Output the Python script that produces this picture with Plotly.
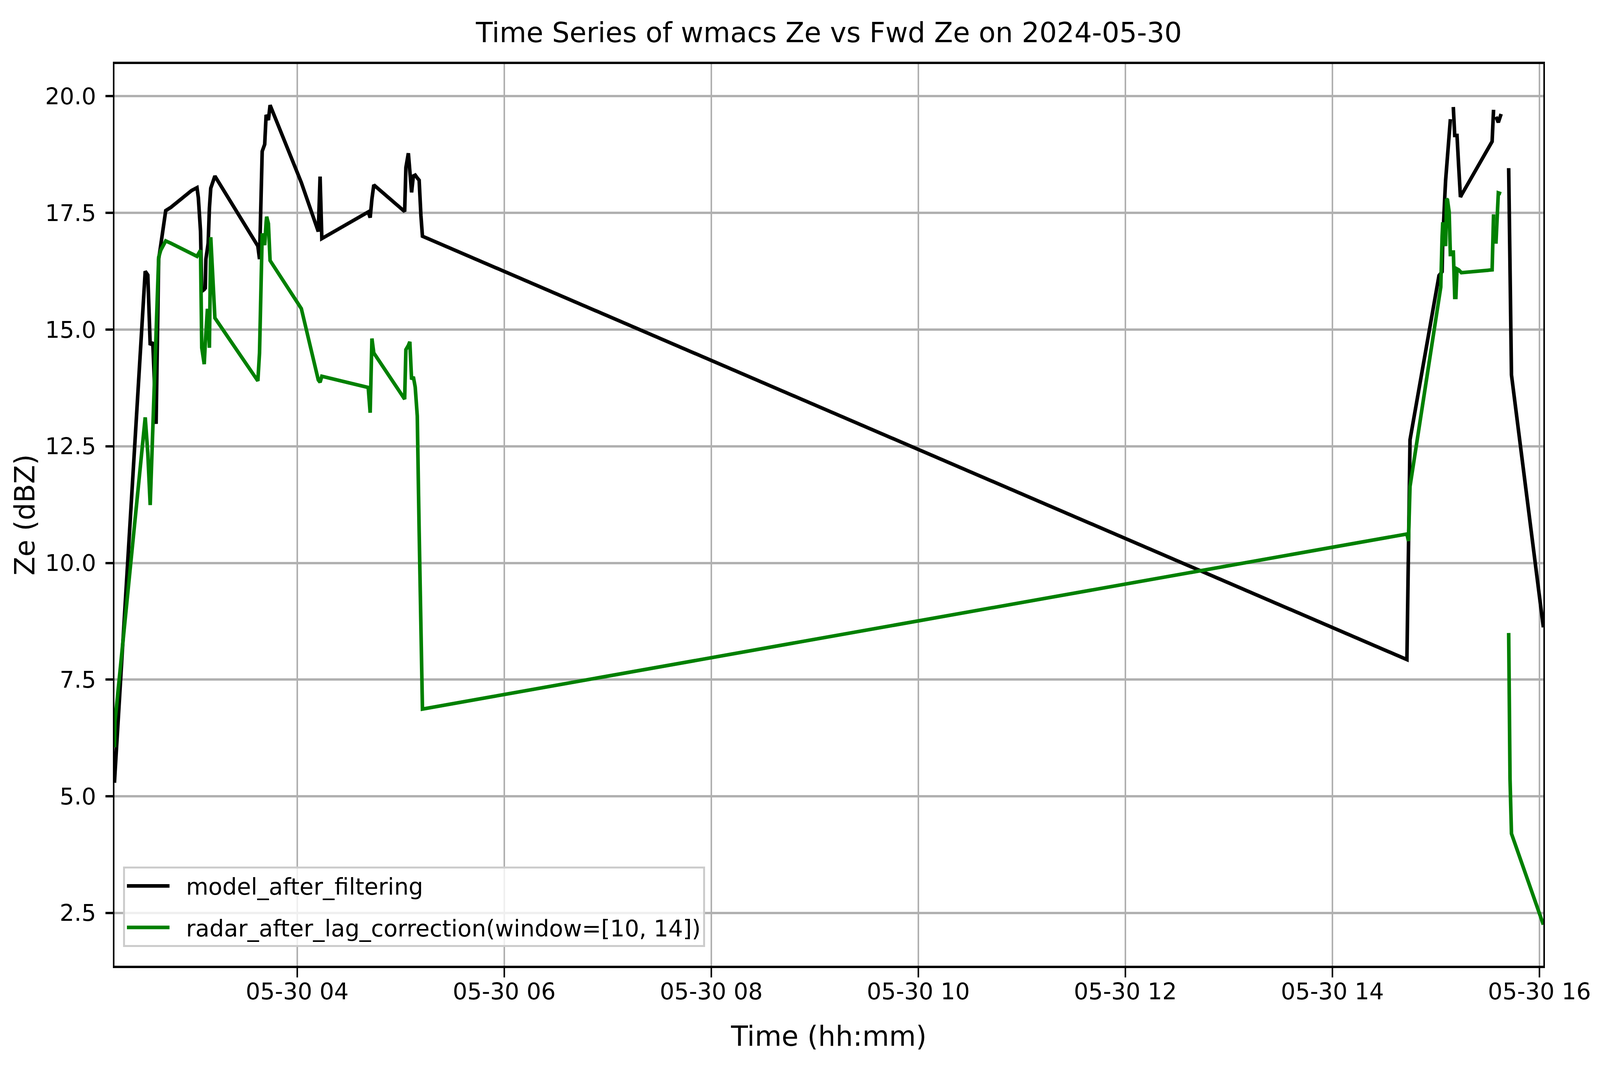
import plotly.graph_objects as go

DATE = "2024-05-30"

times = [
    "02:14:05", "02:14:24", "02:31:55", "02:33:25", "02:34:48", "02:36:18", "02:38:13",
    "02:39:43", "02:40:55", "02:43:48", "02:46:48", "02:58:48", "03:01:55", "03:02:42",
    "03:03:58", "03:04:41", "03:06:07", "03:06:43", "03:07:05", "03:07:55", "03:08:24",
    "03:09:07", "03:09:54", "03:12:18", "03:37:12", "03:38:10", "03:39:43", "03:41:10",
    "03:42:00", "03:42:18", "03:43:19", "03:43:55", "03:44:17", "04:02:24", "04:12:14",
    "04:13:16", "04:14:17", "04:41:10", "04:42:18", "04:43:19", "04:44:24", "05:02:17",
    "05:03:00", "05:04:26", "05:05:17", "05:06:18", "05:07:19", "05:08:24", "05:09:36",
    "05:10:41", "05:11:42", "05:12:36",
    "14:43:12", "14:44:06", "14:45:00", "15:01:48", "15:02:49", "15:03:36", "15:03:58",
    "15:04:23", "15:05:13", "15:05:38", "15:06:11", "15:06:43", "15:07:41", "15:08:24",
    "15:09:11", "15:10:05", "15:10:55", "15:11:35", "15:12:14", "15:13:12", "15:14:13",
    "15:14:46", "15:32:35", "15:33:25", "15:34:12", "15:34:48", "15:36:11", "15:37:48",
    "15:39:54", "15:42:11", "15:42:58", "15:43:48", "16:02:17",
]

model_after_filtering = [
    5.29, 5.50, 16.25, 16.17, 14.67, 14.73, 12.98,
    16.51, 16.81, 17.55, 17.62, 17.98, 18.04, 17.83,
    17.11, 15.82, 15.86, 15.89, 16.51, 16.75, 16.85,
    17.60, 18.03, 18.29, 16.79, 16.51, 18.82, 18.97,
    19.60, 19.58, 19.49, 19.70, 19.81, 18.15, 17.10,
    18.28, 16.95, 17.52, 17.40, 17.80, 18.10, 17.53,
    18.47, 18.78, 18.40, 17.94, 18.29, 18.31, 18.25,
    18.20, 17.45, 17.00,
    7.93, 10.30, 12.64, 16.16, 16.20, 16.24, 16.90,
    17.38, 17.90, 18.20, 18.50, 18.80, 19.25, 19.51,
    None, 19.77, 19.16, 19.16, 19.16, 18.50, 17.84,
    17.88, 19.03, 19.71, None, 19.56, 19.44, 19.62,
    None, 18.46, 16.33, 14.03, 8.62,
]

radar_after_lag_correction = [
    6.05, 6.60, 13.12, 12.35, 11.24, 12.90, 15.20,
    16.55, 16.70, 16.90, 16.85, 16.62, 16.57, 16.62,
    16.70, 14.61, 14.26, 14.70, 15.00, 15.41, 15.41,
    14.61, 16.98, 15.25, 13.90, 14.50, 17.06, 16.81,
    17.30, 17.42, 17.27, 16.51, 16.48, 15.45, 13.92,
    13.87, 14.00, 13.76, 13.22, 14.81, 14.50, 13.51,
    14.57, 14.66, 14.74, 13.93, 13.99, 13.77, 13.15,
    10.69, 8.37, 6.87,
    10.62, 10.47, 11.64, 15.62, 15.91, 17.00, 17.30,
    17.10, 16.79, 16.79, 17.80, 17.78, 17.52, 16.57,
    None, 16.70, 15.69, 15.69, 16.30, 16.28, 16.23,
    16.22, 16.28, 17.47, None, 16.84, 17.93, 17.91,
    None, 8.50, 5.37, 4.20, 2.25,
]

y_ticks = [2.5, 5.0, 7.5, 10.0, 12.5, 15.0, 17.5, 20.0]

x = [f"{DATE} {t}" for t in times]

# The page is shown in a 4096 x 2740 viewport: fill it.
W, H = 4096, 2740
KX = W / 5206          # horizontal scale vs. reference pixels
F = 0.85               # font scale
FONT = "DejaVu Sans"

L, R, T, B = round(362 * KX), round(194 * KX), 156, 275
PLOT_H = H - T - B

TICK_FS = 69 * F
TITLE_FS = 83 * F
LINE_W = 9.2

fig = go.Figure()
fig.add_trace(go.Scatter(
    x=x, y=model_after_filtering, mode="lines",
    name="\u00a0\u00a0model_after_filtering", legendgroup="a",
    line=dict(color="black", width=LINE_W), connectgaps=False,
))
fig.add_trace(go.Scatter(
    x=x, y=radar_after_lag_correction, mode="lines",
    name="\u00a0\u00a0radar_after_lag_correction(window=[10, 14])", legendgroup="b",
    line=dict(color="green", width=LINE_W), connectgaps=False,
))

fig.update_layout(
    width=W, height=H,
    margin=dict(l=L, r=R, t=T, b=B, pad=0),
    paper_bgcolor="white", plot_bgcolor="white",
    font=dict(family=FONT, size=TICK_FS, color="black"),
    title=dict(
        text=f"Time Series of wmacs Ze vs Fwd Ze on {DATE}",
        x=(L + (W - R)) / 2 / W, xanchor="center", xref="container",
        y=1 - 75 / H, yanchor="middle", yref="container",
        font=dict(family=FONT, size=TITLE_FS, color="black"),
    ),
    showlegend=True,
    legend=dict(
        x=0.006, y=(32 + 16) / PLOT_H, xanchor="left", yanchor="bottom",
        bgcolor="rgba(255,255,255,0.8)", bordercolor="#cccccc", borderwidth=5,
        font=dict(family=FONT, size=TICK_FS, color="black"),
        itemwidth=round(139 * KX), tracegroupgap=27, traceorder="grouped",
    ),
)

fig.update_xaxes(
    type="date",
    range=[f"{DATE} 02:14:05", f"{DATE} 16:02:17"],
    tick0=f"{DATE} 00:00:00", dtick=2 * 3600 * 1000,
    tickformat="%m-%d %H",
    showgrid=True, gridcolor="#b0b0b0", gridwidth=5.6 * KX,
    showline=True, linecolor="black", linewidth=5.6, mirror=True,
    ticks="outside", ticklen=24, tickwidth=5.6 * KX, tickcolor="black",
    tickfont=dict(family=FONT, size=TICK_FS, color="black"),
    ticklabelstandoff=-14,
    zeroline=False,
    title=dict(text="Time (hh:mm)", font=dict(family=FONT, size=TITLE_FS, color="black"), standoff=58),
)
fig.update_yaxes(
    range=[1.37, 20.69],
    tickvals=y_ticks, tickformat=".1f",
    showgrid=True, gridcolor="#b0b0b0", gridwidth=5.6,
    showline=True, linecolor="black", linewidth=5.6 * KX, mirror=True,
    ticks="outside", ticklen=round(24 * KX), tickwidth=5.6, tickcolor="black",
    tickfont=dict(family=FONT, size=TICK_FS, color="black"),
    ticklabelstandoff=12,
    zeroline=False,
    title=dict(text="Ze (dBZ)", font=dict(family=FONT, size=TITLE_FS, color="black"), standoff=5),
)

fig.write_html("out.html")
